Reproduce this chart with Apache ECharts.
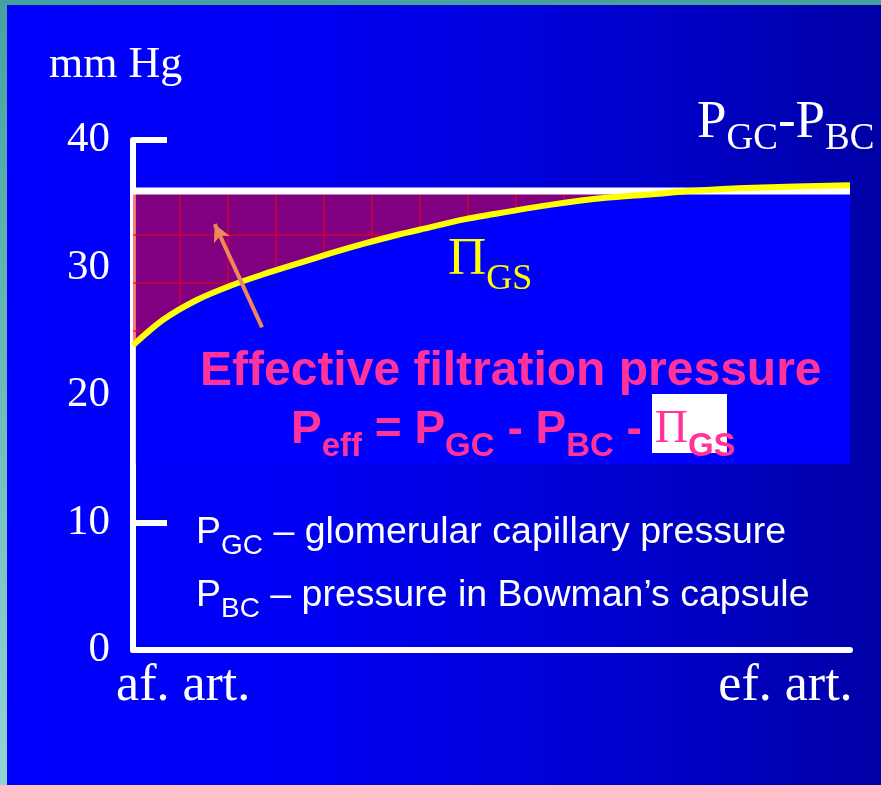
<!DOCTYPE html>
<html>
<head>
<meta charset="utf-8">
<script src="https://cdn.jsdelivr.net/npm/echarts@6/dist/echarts.min.js"></script>
<style>
html,body{margin:0;padding:0;width:881px;height:785px;overflow:hidden;background:linear-gradient(to bottom,#46a19e,#92d4d6);}
#chart{position:absolute;left:7px;top:5px;width:874px;height:780px;background:linear-gradient(to right,#0000ff 0%,#0000f4 35%,#0000cc 72%,#0000a6 100%);}
</style>
</head>
<body>
<div id="chart"></div>
<script>
// ---- data ----
const xLabels = ['af. art.', 'ef. art.'];
const xLabelPos = [7, 91];
const positions = [0, 4.2, 8.9, 13.5, 18.1, 22.9, 27.5, 32.1, 36.8, 41.4, 46, 49.4, 58.6, 65.6, 72.5, 77.7, 86.5, 100];
const piGS = [23.9, 25.9, 27.45, 28.55, 29.45, 30.3, 31.1, 31.85, 32.55, 33.15, 33.75, 34.1, 34.95, 35.45, 35.75, 36.0, 36.25, 36.45];
const netPressure = 36; // P_GC - P_BC
const arrowTail = [18.0, 25.3];
const arrowHead = [11.4, 33.4];

function makePattern() {
  const c = document.createElement('canvas');
  c.width = 48; c.height = 48;
  const g = c.getContext('2d');
  g.fillStyle = 'rgba(255,0,0,0.5)';
  g.fillRect(0, 0, 48, 48);
  g.fillStyle = 'rgba(235,0,25,0.55)';
  g.fillRect(28, 0, 2, 48);
  g.fillRect(0, 37, 48, 2);
  return c;
}

const curve = positions.map((x, i) => [x, piGS[i]]);
const netLine = [[positions[0], netPressure], [positions[positions.length - 1], netPressure]];

const serif = '"Liberation Serif","DejaVu Serif",serif';
const sans = '"Liberation Sans","Noto Sans",Arial,sans-serif';
const pink = '#ff3399';

const chart = echarts.init(document.getElementById('chart'), null, {renderer: 'canvas'});
chart.setOption({
  animation: false,
  backgroundColor: 'transparent',
  grid: {left: 126, right: 31, top: 135, bottom: 135, outerBoundsMode: 'none'},
  xAxis: {
    type: 'value', min: 0, max: 100,
    axisLine: {show: true, onZero: false, lineStyle: {color: '#fff', width: 6}},
    axisTick: {show: false},
    splitLine: {show: false},
    axisLabel: {
      customValues: xLabelPos,
      formatter: (v) => xLabels[xLabelPos.indexOf(v)] || '',
      color: '#fff', fontFamily: serif, fontSize: 52, margin: 10
    }
  },
  yAxis: {
    type: 'value', min: 0, max: 40, interval: 10,
    axisLine: {show: true, lineStyle: {color: '#fff', width: 6}},
    axisTick: {show: true, inside: true, length: 34, lineStyle: {color: '#fff', width: 6}},
    splitLine: {show: false},
    axisLabel: {color: '#fff', fontFamily: serif, fontSize: 43, margin: 23, padding: [0, 0, 10, 0]}
  },
  series: [
    {
      type: 'line', name: 'Peff', data: curve, smooth: 0.3,
      symbol: 'none', silent: true, z: 2,
      lineStyle: {width: 0, opacity: 0},
      areaStyle: {color: {image: makePattern(), repeat: 'repeat'}, opacity: 1, origin: netPressure}
    },
    {
      type: 'line', name: 'PGC-PBC', data: netLine, symbol: 'none', silent: true, z: 3,
      lineStyle: {color: '#ffffff', width: 7},
      markArea: {
        silent: true, z: 1,
        itemStyle: {color: '#0000ff'},
        label: {show: false},
        data: [[{coord: [0.4, 14.6]}, {coord: [100, 36.2]}]]
      }
    },
    {
      type: 'line', name: 'PiGS', data: curve, smooth: 0.3,
      symbol: 'none', silent: true, z: 4,
      lineStyle: {color: '#ffff00', width: 6},
      markLine: {
        silent: true, symbol: ['none', 'arrow'], symbolSize: [13, 17],
        lineStyle: {color: '#f0875a', width: 4, type: 'solid'},
        label: {show: false},
        data: [[{coord: arrowTail}, {coord: arrowHead}]]
      }
    }
  ],
  graphic: [
    {type: 'text', x: 42, y: 38, z: 21,
      style: {text: 'mm Hg', fill: '#fff', font: '44px ' + serif, verticalAlign: 'top', align: 'left'}},
    {type: 'text', x: 690, y: 92, z: 21,
      style: {
        text: '{b|P}{s|GC}{b|-P}{s|BC}', verticalAlign: 'top', align: 'left',
        fontFamily: serif, fontSize: 53, fill: '#fff',
        rich: {
          b: {fontFamily: serif, fontSize: 53, lineHeight: 53, fill: '#fff', verticalAlign: 'top'},
          s: {fontFamily: serif, fontSize: 37, fill: '#fff', verticalAlign: 'top', padding: [24, 0, 0, 0]}
        }
      }},
    {type: 'text', x: 441, y: 229, z: 21,
      style: {
        text: '{b|Π}{s|GS}', verticalAlign: 'top', align: 'left',
        fontFamily: serif, fontSize: 53, fill: '#ffff00',
        rich: {
          b: {fontFamily: serif, fontSize: 53, lineHeight: 53, fill: '#ffff00', verticalAlign: 'top'},
          s: {fontFamily: serif, fontSize: 36, fill: '#ffff00', verticalAlign: 'top', padding: [28, 0, 0, 0]}
        }
      }},
    {type: 'text', x: 193, y: 343, z: 21,
      style: {text: 'Effective filtration pressure', fill: pink, font: 'bold 48px ' + sans, verticalAlign: 'top', align: 'left'}},
    {type: 'rect', z: 20, shape: {x: 645, y: 389, width: 75, height: 59}, style: {fill: '#ffffff'}},
    {type: 'text', x: 284, y: 402, z: 21,
      style: {
        text: '{b|P}{s|eff}{b| = P}{s|GC}{b| - P}{s|BC}{b| - }{p|Π}{s|GS}', verticalAlign: 'top', align: 'left',
        fontFamily: sans, fontSize: 46, fontWeight: 'bold', fill: pink,
        rich: {
          b: {fontFamily: sans, fontSize: 46, fontWeight: 'bold', lineHeight: 46, fill: pink, verticalAlign: 'top'},
          p: {fontFamily: serif, fontSize: 46, lineHeight: 46, fill: pink, verticalAlign: 'top'},
          s: {fontFamily: sans, fontSize: 33, fontWeight: 'bold', fill: pink, verticalAlign: 'top', padding: [23, 0, 0, 0]}
        }
      }},
    {type: 'text', x: 189, y: 509, z: 21,
      style: {
        text: '{b|P}{s|GC}{b| – glomerular capillary pressure}', verticalAlign: 'top', align: 'left',
        fontFamily: sans, fontSize: 37.5, fill: '#fff',
        rich: {
          b: {fontFamily: sans, fontSize: 37.5, lineHeight: 38, fill: '#fff', verticalAlign: 'top'},
          s: {fontFamily: sans, fontSize: 28, fill: '#fff', verticalAlign: 'top', padding: [18, 0, 0, 0]}
        }
      }},
    {type: 'text', x: 189, y: 572, z: 21,
      style: {
        text: '{b|P}{s|BC}{b| – pressure in Bowman’s capsule}', verticalAlign: 'top', align: 'left',
        fontFamily: sans, fontSize: 37.5, fill: '#fff',
        rich: {
          b: {fontFamily: sans, fontSize: 37.5, lineHeight: 38, fill: '#fff', verticalAlign: 'top'},
          s: {fontFamily: sans, fontSize: 28, fill: '#fff', verticalAlign: 'top', padding: [18, 0, 0, 0]}
        }
      }}
  ]
});
</script>
</body>
</html>
